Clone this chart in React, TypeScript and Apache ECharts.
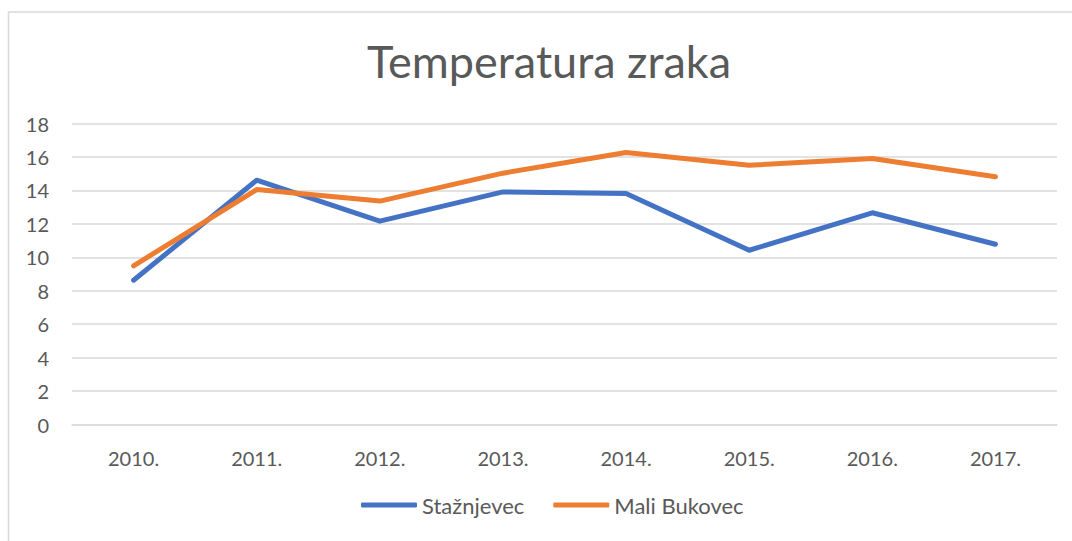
import React, { useEffect, useRef } from "react";
import * as echarts from "echarts";

const categories = ["2010.", "2011.", "2012.", "2013.", "2014.", "2015.", "2016.", "2017."];
const stažnjevec = [8.63, 14.61, 12.16, 13.91, 13.82, 10.42, 12.66, 10.78];
const maliBukovec = [9.49, 14.05, 13.36, 15.03, 16.27, 15.5, 15.91, 14.81];
const seriesNames = ["Stažnjevec", "Mali Bukovec"];
const titleText = "Temperatura zraka";

export default function App() {
  const ref = useRef<HTMLDivElement>(null);
  useEffect(() => {
    if (!ref.current) return;
    const chart = echarts.init(ref.current, undefined, { renderer: "svg" });
    const font = "Lato, 'Open Sans', sans-serif";
    chart.setOption({
      animation: false,
      backgroundColor: "#ffffff",
      textStyle: { fontFamily: font },
      graphic: [
        {
          type: "rect",
          shape: { x: 8.5, y: 12, width: 1080, height: 560 },
          style: { fill: "none", stroke: "#d9d9d9", lineWidth: 1.5 },
          silent: true,
        },
      ],
      title: {
        text: titleText,
        left: 362,
        top: 33,
        textStyle: { fontFamily: font, fontSize: 45, fontWeight: "normal", color: "#595959" },
      },
      grid: { left: 72, right: 15, top: 123.5, bottom: 116.5 },
      legend: {
        data: seriesNames,
        bottom: 20,
        left: 356,
        icon: "roundRect",
        itemWidth: 56,
        itemHeight: 5,
        itemGap: 29,
        textStyle: { fontFamily: font, fontSize: 22, color: "#595959" },
      },
      xAxis: {
        type: "category",
        data: categories,
        boundaryGap: true,
        axisLine: { show: true, lineStyle: { color: "#d9d9d9", width: 1.5 } },
        axisTick: { show: false },
        axisLabel: { margin: 23, fontSize: 20, color: "#595959", fontFamily: font },
      },
      yAxis: {
        type: "value",
        min: 0,
        max: 18,
        interval: 2,
        axisLine: { show: false },
        axisTick: { show: false },
        splitLine: { lineStyle: { color: "#d9d9d9", width: 1.5 } },
        axisLabel: { margin: 23, fontSize: 20, color: "#595959", fontFamily: font },
      },
      series: [
        {
          name: seriesNames[0],
          type: "line",
          data: stažnjevec,
          showSymbol: false,
          symbol: "none",
          color: "#4472C4",
          lineStyle: { width: 5, color: "#4472C4", cap: "round", join: "round" },
        },
        {
          name: seriesNames[1],
          type: "line",
          data: maliBukovec,
          showSymbol: false,
          symbol: "none",
          color: "#ED7D31",
          lineStyle: { width: 5, color: "#ED7D31", cap: "round", join: "round" },
        },
      ],
    });
    return () => chart.dispose();
  }, []);
  return (
    <div
      ref={ref}
      style={{ position: "fixed", left: 0, top: 0, width: 1072, height: 541 }}
    />
  );
}
